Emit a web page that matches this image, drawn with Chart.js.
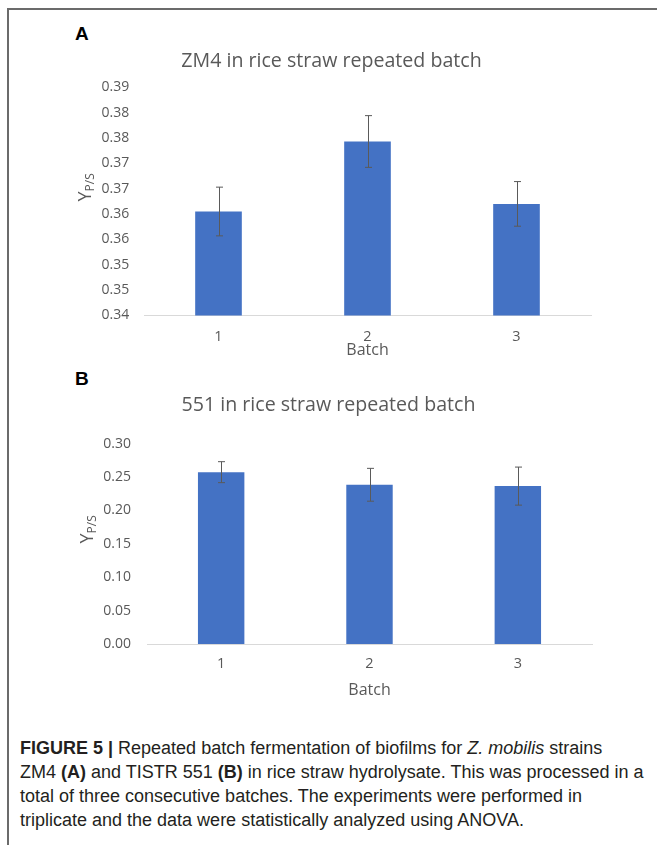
<!DOCTYPE html>
<html>
<head>
<meta charset="utf-8">
<script src="https://cdn.jsdelivr.net/npm/chart.js@4.4.1/dist/chart.umd.min.js"></script>
<style>
    body { margin: 0; background: #fff; width: 657px; height: 845px; position: relative; overflow: hidden; }
    .frame { position: absolute; left: 7px; top: 8px; width: 660px; height: 850px; border-top: 2px solid #6b6b6b; border-left: 2px solid #6b6b6b; }
    .panel { position: absolute; left: 75px; font: bold 19px "Liberation Sans", Arial, sans-serif; line-height: 1; color: #000; }
    .box { position: absolute; left: 40px; width: 600px; height: 330px; }
    .caption { position: absolute; left: 20px; top: 736px; width: 640px; font: 18px "Liberation Sans", Arial, sans-serif; line-height: 24px; color: #231f20; white-space: nowrap; }
</style>
</head>
<body>
<div class="frame"></div>
<div class="panel" style="top:24px">A</div>
<div class="panel" style="top:369px">B</div>
<div class="box" style="top:40px"><canvas id="chartA"></canvas></div>
<div class="box" style="top:384px"><canvas id="chartB"></canvas></div>
<div class="caption">
    <b>FIGURE 5 |</b> Repeated batch fermentation of biofilms for <i>Z. mobilis</i> strains<br>
    ZM4 <b>(A)</b> and TISTR 551 <b>(B)</b> in rice straw hydrolysate. This was processed in a<br>
    total of three consecutive batches. The experiments were performed in<br>
    triplicate and the data were statistically analyzed using ANOVA.
</div>
<script>
// data
const batches = ['1', '2', '3'];
const zm4Yield = [0.3605, 0.3743, 0.3620];
const zm4Err = [0.0048, 0.0051, 0.0044];
const tistrYield = [0.2574, 0.2385, 0.2365];
const tistrErr = [0.0157, 0.0246, 0.0285];
const zm4Ticks = ['0.34', '0.35', '0.35', '0.36', '0.36', '0.37', '0.37', '0.38', '0.38', '0.39'];
const tistrTicks = ['0.00', '0.05', '0.10', '0.15', '0.20', '0.25', '0.30'];

Chart.defaults.font.family = '"Open Sans", sans-serif';
Chart.defaults.color = '#595959';
Chart.defaults.animation = false;

// error bars drawn from the bar scale
const errorBars = {
    id: 'errorBars',
    afterDatasetsDraw(chart, args, opts) {
        const ctx = chart.ctx;
        const meta = chart.getDatasetMeta(0);
        const yScale = chart.scales.y;
        const values = chart.data.datasets[0].data;
        ctx.save();
        ctx.strokeStyle = '#5a5a5a';
        ctx.lineWidth = 1;
        meta.data.forEach((bar, i) => {
            const x = Math.round(bar.x) + 0.5;
            const top = yScale.getPixelForValue(values[i] + opts.err[i]);
            const bottom = yScale.getPixelForValue(values[i] - opts.err[i]);
            ctx.beginPath();
            ctx.moveTo(x, top);
            ctx.lineTo(x, bottom);
            ctx.moveTo(x - 3.5, top);
            ctx.lineTo(x + 3.5, top);
            ctx.moveTo(x - 3.5, bottom);
            ctx.lineTo(x + 3.5, bottom);
            ctx.stroke();
        });
        ctx.restore();
    }
};

// rotated "Y P/S" axis title with subscript
const yTitle = {
    id: 'yTitle',
    afterDraw(chart, args, opts) {
        const ctx = chart.ctx;
        const area = chart.chartArea;
        ctx.save();
        ctx.translate(opts.x, (area.top + area.bottom) / 2 + opts.dy);
        ctx.rotate(-Math.PI / 2);
        ctx.fillStyle = '#595959';
        ctx.textBaseline = 'alphabetic';
        ctx.font = '18px "Open Sans", sans-serif';
        const wY = ctx.measureText('Y').width;
        ctx.font = '12px "Open Sans", sans-serif';
        const wSub = ctx.measureText('P/S').width;
        const start = -(wY + wSub) / 2;
        ctx.font = '18px "Open Sans", sans-serif';
        ctx.fillText('Y', start, 6);
        ctx.font = '12px "Open Sans", sans-serif';
        ctx.fillText('P/S', start + wY, 9);
        ctx.restore();
    }
};

function makeChart(id, title, values, err, ticks, yMin, yMax, step, cfg) {
    new Chart(document.getElementById(id), {
        type: 'bar',
        data: {
            labels: batches,
            datasets: [{
                data: values,
                backgroundColor: '#4472C4',
                borderWidth: 0,
                categoryPercentage: 1,
                barPercentage: 0.313,
            }],
        },
        options: {
            responsive: true,
            maintainAspectRatio: false,
            layout: { padding: { left: cfg.left, right: cfg.right, top: 0, bottom: cfg.bottom } },
            plugins: {
                legend: { display: false },
                tooltip: { enabled: false },
                title: {
                    display: true,
                    text: title,
                    color: '#595959',
                    font: { size: 19.6, weight: 'normal' },
                    padding: { top: 9.2, bottom: cfg.titleGap },
                },
                errorBars: { err: err },
                yTitle: { x: cfg.titleX, dy: cfg.titleDy },
            },
            scales: {
                x: {
                    grid: { display: false, drawTicks: false },
                    border: { display: true, color: '#d9d9d9', width: 1 },
                    ticks: { font: { size: 14.5 }, padding: cfg.xPad, color: '#595959' },
                    title: { display: true, text: 'Batch', font: { size: 16 }, color: '#595959', padding: 0 },
                    afterFit: (scale) => { scale.height = cfg.xHeight; },
                },
                y: {
                    min: yMin,
                    max: yMax,
                    grid: { display: false, drawTicks: false },
                    border: { display: false },
                    ticks: {
                        stepSize: step,
                        font: { size: 14 },
                        padding: cfg.yPad,
                        color: '#595959',
                        callback: (v, i) => ticks[i],
                    },
                    afterFit: (scale) => { scale.width = cfg.yWidth; },
                },
            },
        },
        plugins: [errorBars, yTitle],
    });
}

makeChart('chartA', 'ZM4 in rice straw repeated batch', zm4Yield, zm4Err, zm4Ticks, 0.34, 0.385, 0.005,
    { left: 32, right: 49, bottom: 9.5, titleGap: 14.5, xPad: 13, xHeight: 45, yPad: 14.7, yWidth: 72, titleX: 45, titleDy: -14 });

makeChart('chartB', '551 in rice straw repeated batch', tistrYield, tistrErr, tistrTicks, 0, 0.3, 0.05,
    { left: 25, right: 48, bottom: 13.7, titleGap: 27, xPad: 11.6, xHeight: 56.3, yPad: 16, yWidth: 82, titleX: 46.5, titleDy: -14.5 });
</script>
</body>
</html>
